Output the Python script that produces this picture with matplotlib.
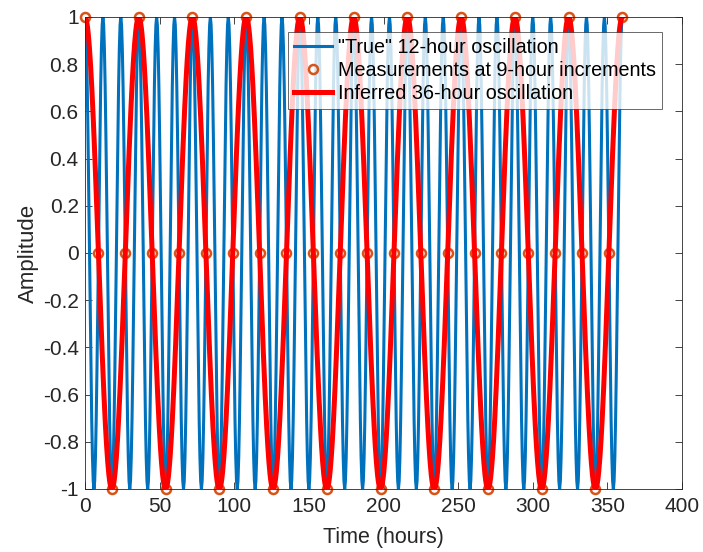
import numpy as np
import matplotlib.pyplot as plt

plt.rcParams['font.family'] = ['Liberation Sans', 'DejaVu Sans']

# periods of the two oscillations (hours)
true_period = 12
inferred_period = 36
t_end = 360

# measurements every 9 hours
meas_times = list(range(0, 361, 9))
meas_values = [1, 0, -1, 0] * 10 + [1]

t_true = np.arange(0, t_end + 0.5, 0.5)
y_true = np.cos(2 * np.pi * t_true / true_period)
t_inf = np.arange(0, t_end + 0.25, 0.25)
y_inf = np.cos(2 * np.pi * t_inf / inferred_period)

fig = plt.figure(figsize=(7.03, 5.52), dpi=100)
ax = fig.add_axes([85 / 703, 1 - 489 / 552, 597 / 703, 472 / 552])

ax.plot(t_true, y_true, color='#0072BD', lw=2.2, label='"True" 12-hour oscillation')
ax.plot(meas_times, meas_values, 'o', color='#D95319', mfc='none', mew=1.8, ms=6.5,
        label='Measurements at 9-hour increments', clip_on=False)
ax.plot(t_inf, y_inf, color='red', lw=3.6, label='Inferred 36-hour oscillation')

ax.set_xlim(0, 400)
ax.set_ylim(-1, 1)
ax.set_xticks(range(0, 401, 50))
ax.set_yticks(np.round(np.arange(-1, 1.01, 0.2), 1))
ax.set_yticklabels(['-1', '-0.8', '-0.6', '-0.4', '-0.2', '0', '0.2', '0.4', '0.6', '0.8', '1'])
ax.tick_params(direction='in', top=True, right=True, labelsize=15, colors='#262626',
               length=5, width=0.6)
ax.tick_params(axis='x', pad=6)
ax.tick_params(axis='y', pad=4.5)
for s in ax.spines.values():
    s.set_color('#262626')
    s.set_linewidth(0.6)

ax.set_xlabel('Time (hours)', fontsize=15.5, color='#262626', labelpad=8)
ax.set_ylabel('Amplitude', fontsize=16, color='#262626', labelpad=3)

leg = ax.legend(loc='upper left', bbox_to_anchor=(203 / 597, 1 - 15 / 472),
                fontsize=14.2, frameon=True, fancybox=False, edgecolor='#262626',
                borderpad=0.3, labelspacing=0.2, handlelength=1.95, handletextpad=0.3,
                borderaxespad=0)
leg.get_frame().set_linewidth(0.6)
leg.set_zorder(10)

fig.savefig('out.png', dpi=100)
